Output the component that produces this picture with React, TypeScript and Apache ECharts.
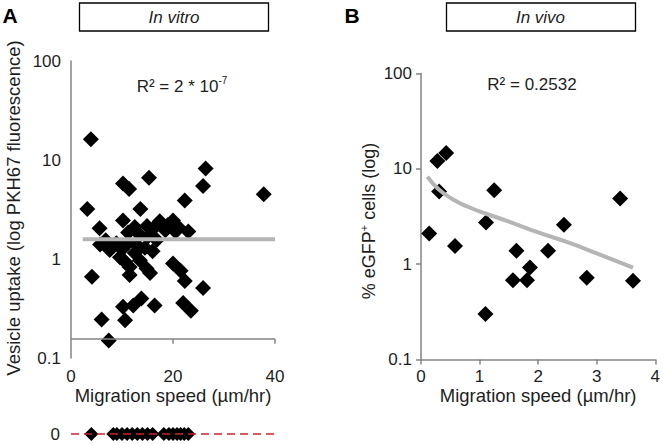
import React, { useEffect, useRef } from 'react';
import * as echarts from 'echarts';

const FONT = '"Liberation Sans", Arial, Helvetica, sans-serif';
const AXIS = '#858585';
const TREND = '#b5b5b5';
const TEXT = '#1e1e1e';

// Panel A (in vitro) – migration speed (µm/hr) vs vesicle uptake
const X_A = [3.9, 10.2, 11.4, 15.3, 26.4, 25.9, 37.8, 22.3, 3.2, 13.6, 10.2, 5.6, 23.0,
  12.5, 14.9, 17.4, 20.0, 21.0, 19.0, 16.0, 11.2, 18.5, 20.5, 13.5, 16.8,
  5.7, 7.6, 8.9, 9.6, 10.6, 11.2, 11.5, 12.5, 12.8, 13.5, 14.8, 15.0, 16.0, 14.5, 10.0, 6.8,
  4.1, 15.5, 11.5, 20.0, 21.5, 22.3, 25.9, 13.8, 12.2, 10.2, 16.4, 22.0, 23.5, 6.0, 10.6, 7.4];
const Y_A = [16.2, 5.8, 5.1, 6.6, 8.2, 5.45, 4.5, 3.9, 3.2, 3.2, 2.45, 2.05, 1.9,
  2.1, 2.15, 2.4, 2.45, 2.1, 2.2, 2.0, 1.85, 1.95, 1.9, 1.75, 1.56,
  1.4, 1.23, 1.44, 1.04, 0.94, 1.45, 0.83, 1.15, 1.4, 0.97, 0.8, 1.67, 1.2, 1.3, 1.25, 1.55,
  0.66, 0.72, 0.69, 0.9, 0.76, 0.6, 0.51, 0.4, 0.34, 0.33, 0.34, 0.36, 0.3, 0.245, 0.24, 0.15];
// cells with zero uptake (plotted on separate "0" row)
const X_A_ZERO = [4.0, 8.3, 9.0, 10.0, 11.0, 12.0, 13.0, 14.0, 15.0, 16.0, 18.2, 19.2, 20.0, 20.8, 21.5, 22.2, 23.0];
// trend line (flat)
const TREND_A_X = [2.3, 40];
const TREND_A_Y = [1.58, 1.58];

// Panel B (in vivo)
const X_B = [0.14, 0.28, 0.43, 0.31, 0.58, 1.11, 1.25, 1.10, 1.63, 1.57, 1.86, 1.81, 2.17, 2.44, 2.83, 3.40, 3.62];
const Y_B = [2.1, 12.1, 14.7, 5.8, 1.55, 2.73, 5.97, 0.30, 1.38, 0.68, 0.92, 0.68, 1.38, 2.59, 0.72, 4.89, 0.67];
const TREND_B_X = [0.11, 0.3, 0.54, 0.8, 1.1, 1.5, 2.0, 2.5, 3.0, 3.62];
const TREND_B_Y = [8.3, 6.1, 4.8, 4.0, 3.4, 2.8, 2.15, 1.7, 1.3, 0.92];

const X_TICKS_A = [0, 20, 40];
const X_TICKS_B = [0, 1, 2, 3, 4];
const Y_MIN = 0.1;
const Y_MAX = 100;
const A_CROSS = 0.156; // where the in-vitro x-axis line crosses the log y-axis
const A_TICK_END = 0.139;

const logFmt = (v: number) => (v >= 1 ? String(Math.round(v)) : String(+v.toPrecision(1)));

const labelStyle = { fontFamily: FONT, fontSize: 17, color: TEXT };
const xLabelStyle = { ...labelStyle, lineHeight: 15 };
const nameStyle = { fontFamily: FONT, fontSize: 18.5, color: TEXT, lineHeight: 17 };
const markStyle = { color: '#000', opacity: 1 };

function buildOption() {
  return {
    animation: false,
    backgroundColor: '#fff',
    textStyle: { fontFamily: FONT },
    grid: [
      { left: 71, top: 61, width: 204, height: 297 },
      { left: 71, top: 424, width: 204, height: 20 },
      { left: 421, top: 73.5, width: 234.5, height: 286 },
    ],
    xAxis: [
      {
        gridIndex: 0, type: 'value', min: X_TICKS_A[0], max: X_TICKS_A[X_TICKS_A.length - 1], interval: 20,
        axisLine: { show: false }, axisTick: { show: false }, splitLine: { show: false },
        axisLabel: { ...xLabelStyle, margin: 10.5 },
        name: 'Migration speed (µm/hr)', nameLocation: 'middle', nameGap: 28.5, nameMoveOverlap: false,
        nameTextStyle: nameStyle,
      },
      {
        gridIndex: 1, type: 'value', min: 0, max: 40, show: false,
      },
      {
        gridIndex: 2, type: 'value', min: X_TICKS_B[0], max: X_TICKS_B[X_TICKS_B.length - 1], interval: 1,
        axisLine: { show: true, lineStyle: { color: AXIS, width: 1.5 } },
        axisTick: { show: true, length: 5, lineStyle: { color: AXIS, width: 1.5 } },
        splitLine: { show: false },
        axisLabel: { ...xLabelStyle, margin: 9.5 },
        name: 'Migration speed (µm/hr)', nameLocation: 'middle', nameGap: 27.5, nameMoveOverlap: false,
        nameTextStyle: nameStyle,
      },
    ],
    yAxis: [
      {
        gridIndex: 0, type: 'log', logBase: 10, min: Y_MIN, max: Y_MAX,
        axisLine: { show: true, lineStyle: { color: AXIS, width: 1.5 } },
        axisTick: { show: false }, splitLine: { show: false },
        axisLabel: { ...labelStyle, margin: 10, formatter: logFmt },
      },
      {
        gridIndex: 1, type: 'category', data: ['0'],
        axisLine: { show: false }, axisTick: { show: false }, splitLine: { show: false },
        axisLabel: { ...labelStyle, margin: 11 },
      },
      {
        gridIndex: 2, type: 'log', logBase: 10, min: Y_MIN, max: Y_MAX,
        axisLine: { show: true, lineStyle: { color: AXIS, width: 1.5 } },
        axisTick: { show: true, length: 5, lineStyle: { color: AXIS, width: 1.5 } },
        splitLine: { show: false },
        axisLabel: { ...labelStyle, margin: 9, formatter: logFmt },
      },
    ],
    series: [
      {
        type: 'scatter', xAxisIndex: 0, yAxisIndex: 0, symbol: 'diamond', symbolSize: 16,
        itemStyle: markStyle, z: 2,
        data: X_A.map((x, i) => [x, Y_A[i]]),
        markLine: {
          silent: true, symbol: 'none', label: { show: false },
          lineStyle: { color: AXIS, width: 1.5, type: 'solid' },
          emphasis: { disabled: true },
          data: [
            [{ coord: [X_TICKS_A[0], A_CROSS] }, { coord: [X_TICKS_A[2], A_CROSS] }],
            [{ coord: [X_TICKS_A[1], A_CROSS] }, { coord: [X_TICKS_A[1], A_TICK_END] }],
            [{ coord: [X_TICKS_A[2], A_CROSS] }, { coord: [X_TICKS_A[2], A_TICK_END] }],
          ],
        },
      },
      {
        type: 'line', xAxisIndex: 0, yAxisIndex: 0, symbol: 'none', z: 3,
        lineStyle: { color: TREND, width: 4 },
        data: TREND_A_X.map((x, i) => [x, TREND_A_Y[i]]),
      },
      {
        type: 'scatter', xAxisIndex: 1, yAxisIndex: 1, symbol: 'diamond', symbolSize: 14,
        itemStyle: markStyle, z: 2,
        data: X_A_ZERO.map((x) => [x, 0]),
      },
      {
        type: 'line', xAxisIndex: 1, yAxisIndex: 1, symbol: 'none', z: 3,
        lineStyle: { color: '#c8262c', width: 1.5, type: [8, 5] },
        data: [[0, 0], [40.3, 0]],
      },
      {
        type: 'scatter', xAxisIndex: 2, yAxisIndex: 2, symbol: 'diamond', symbolSize: 16,
        itemStyle: markStyle, z: 2,
        data: X_B.map((x, i) => [x, Y_B[i]]),
      },
      {
        type: 'line', xAxisIndex: 2, yAxisIndex: 2, symbol: 'none', smooth: true, z: 3,
        lineStyle: { color: TREND, width: 4 },
        data: TREND_B_X.map((x, i) => [x, TREND_B_Y[i]]),
      },
    ],
    graphic: [
      { type: 'text', x: 10, y: 15, style: { text: 'A', fontFamily: FONT, fontSize: 21, fontWeight: 'bold', fill: '#000', align: 'center', verticalAlign: 'middle' } },
      { type: 'text', x: 352, y: 15, style: { text: 'B', fontFamily: FONT, fontSize: 21, fontWeight: 'bold', fill: '#000', align: 'center', verticalAlign: 'middle' } },
      { type: 'rect', shape: { x: 79.5, y: 3, width: 189, height: 28 }, style: { fill: '#fff', stroke: '#000', lineWidth: 1.3 } },
      { type: 'text', x: 174, y: 17, style: { text: 'In vitro', fontFamily: FONT, fontSize: 17, fontStyle: 'italic', fill: TEXT, align: 'center', verticalAlign: 'middle' } },
      { type: 'rect', shape: { x: 446.5, y: 3, width: 189, height: 28 }, style: { fill: '#fff', stroke: '#000', lineWidth: 1.3 } },
      { type: 'text', x: 540.5, y: 17, style: { text: 'In vivo', fontFamily: FONT, fontSize: 17, fontStyle: 'italic', fill: TEXT, align: 'center', verticalAlign: 'middle' } },
      {
        type: 'text', x: 182, y: 85,
        style: {
          text: '{n|R² = 2 * 10}{s|-7}', align: 'center', verticalAlign: 'middle',
          rich: {
            n: { fontFamily: FONT, fontSize: 17, fill: TEXT, lineHeight: 20, verticalAlign: 'bottom' },
            s: { fontFamily: FONT, fontSize: 10, fill: TEXT, lineHeight: 20, verticalAlign: 'top' },
          },
        },
      },
      { type: 'text', x: 532, y: 84, style: { text: 'R² = 0.2532', fontFamily: FONT, fontSize: 17, fill: TEXT, align: 'center', verticalAlign: 'middle' } },
      {
        type: 'text', x: 13, y: 208, rotation: Math.PI / 2,
        style: { text: 'Vesicle uptake (log PKH67 fluorescence)', fontFamily: FONT, fontSize: 18.5, fill: TEXT, align: 'center', verticalAlign: 'middle' },
      },
      {
        type: 'text', x: 368, y: 221, rotation: Math.PI / 2,
        style: {
          text: '{n|% eGFP}{s|+}{n| cells (log)}', align: 'center', verticalAlign: 'middle',
          rich: {
            n: { fontFamily: FONT, fontSize: 18, fill: TEXT, lineHeight: 20, verticalAlign: 'bottom' },
            s: { fontFamily: FONT, fontSize: 11, fill: TEXT, lineHeight: 20, verticalAlign: 'top' },
          },
        },
      },
    ],
  };
}

export default function App() {
  const ref = useRef<HTMLDivElement>(null);
  useEffect(() => {
    if (!ref.current) return;
    const chart = echarts.init(ref.current, null, { renderer: 'svg' });
    chart.setOption(buildOption() as any);
    return () => chart.dispose();
  }, []);
  return (
    <div
      ref={ref}
      style={{ position: 'fixed', left: 0, top: 0, width: 663, height: 444, background: '#fff' }}
    />
  );
}
